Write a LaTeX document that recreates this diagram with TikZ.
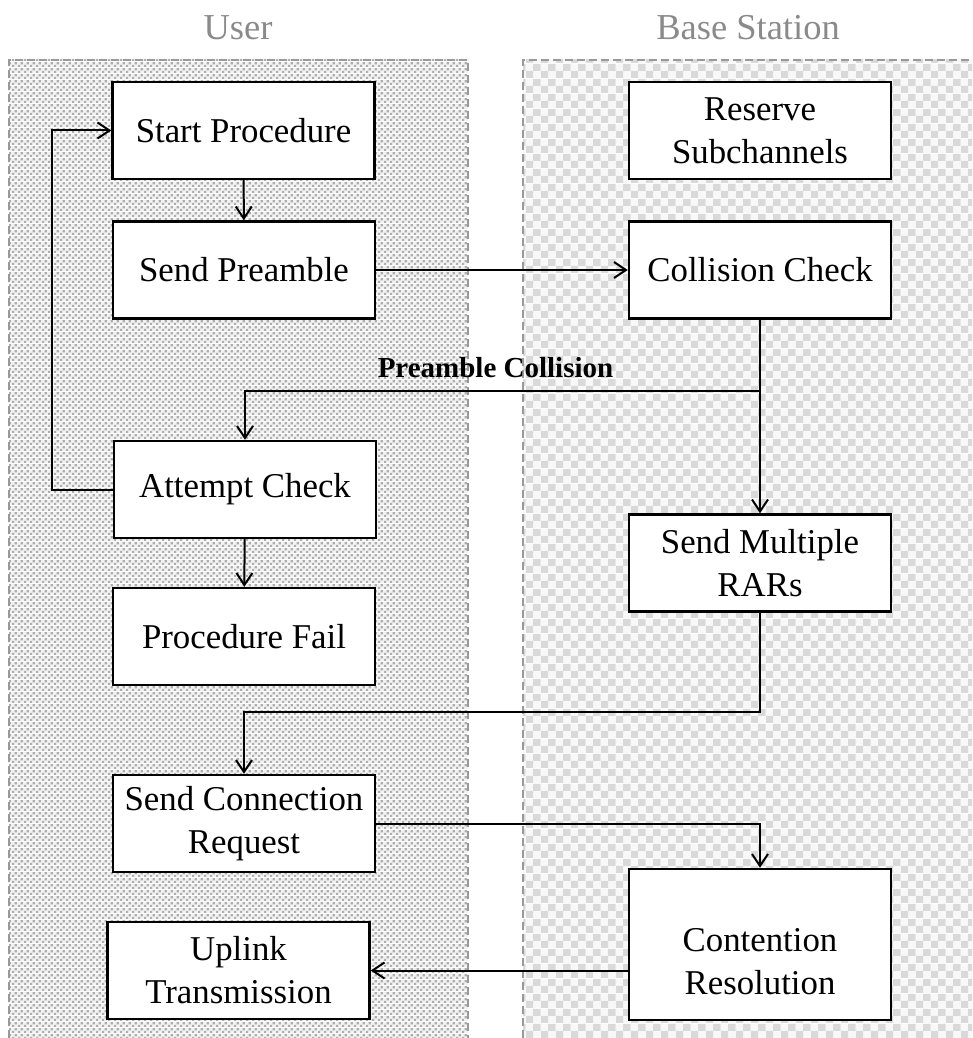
\documentclass[tikz,border=0pt]{standalone}
\usepackage{fontspec}
\setmainfont{Liberation Serif}
\usetikzlibrary{arrows.meta,patterns}

\definecolor{dotbg}{HTML}{F2F2F2}
\definecolor{dotfg}{HTML}{ADADAD}
\definecolor{chkbg}{HTML}{F8F8F8}
\definecolor{chkfg}{HTML}{D9D9D9}
\definecolor{paneledge}{HTML}{999999}
\definecolor{titlegray}{HTML}{8A8A8A}

% staggered grey dots for the user lane
\pgfdeclarepatterninherentlycolored{userdots}{\pgfpointorigin}{\pgfqpoint{6pt}{6pt}}{\pgfqpoint{6pt}{6pt}}{%
  \pgfsetfillcolor{dotbg}%
  \pgfpathrectangle{\pgfpointorigin}{\pgfqpoint{6pt}{6pt}}\pgfusepath{fill}%
  \pgfsetfillcolor{dotfg}%
  \pgfpathrectangle{\pgfpointorigin}{\pgfqpoint{2.6pt}{2.6pt}}%
  \pgfpathrectangle{\pgfqpoint{3pt}{3pt}}{\pgfqpoint{2.6pt}{2.6pt}}%
  \pgfusepath{fill}}

% light checkerboard for the base station lane
\pgfdeclarepatterninherentlycolored{bscheck}{\pgfpointorigin}{\pgfqpoint{14.6pt}{14.6pt}}{\pgfqpoint{14.6pt}{14.6pt}}{%
  \pgfsetfillcolor{chkbg}%
  \pgfpathrectangle{\pgfpointorigin}{\pgfqpoint{14.6pt}{14.6pt}}\pgfusepath{fill}%
  \pgfsetfillcolor{chkfg}%
  \pgfpathrectangle{\pgfpointorigin}{\pgfqpoint{7.3pt}{7.3pt}}%
  \pgfpathrectangle{\pgfqpoint{7.3pt}{7.3pt}}{\pgfqpoint{7.3pt}{7.3pt}}%
  \pgfusepath{fill}}

\tikzset{
  lane/.style={draw=paneledge, line width=1.4pt, dash pattern=on 8pt off 4pt},
  lanetitle/.style={text=titlegray, font=\fontsize{36.5}{42}\selectfont, anchor=base, inner sep=0pt},
  stepfont/.style={font=\fontsize{34.8}{43}\selectfont},
  stepbox/.style={draw, line width=2.4pt, fill=white, minimum width=262pt, minimum height=97pt,
    inner sep=0pt, align=center, stepfont},
  flow/.style={line width=2pt, -{Straight Barb[length=12pt,width=16pt,line width=2pt]}},
  edgelabel/.style={font=\bfseries\fontsize{29}{34}\selectfont, anchor=base, inner sep=0pt}
}

\begin{document}
\begin{tikzpicture}[x=1pt,y=-1pt]
\useasboundingbox (0,0) rectangle (972,1038);
\clip (0,0) rectangle (972,1038);

% swim lanes
\fill[pattern=userdots] (9,60) rectangle (468,1050);
\draw[lane] (9,1050) -- (9,60) -- (468,60) -- (468,1050);
\fill[pattern=bscheck] (523,60) rectangle (990,1050);
\draw[lane] (523,1050) -- (523,60) -- (990,60);

\node[lanetitle] (tuser) at (238,40) {User};
\node[lanetitle] (tbs) at (748,40) {Base Station};

% process steps
\node[stepbox] (start) at (243.5,130.5) {Start Procedure};
\node[stepbox] (pre)   at (244,270)     {Send Preamble};
\node[stepbox] (res)   at (760,130.5)   {Reserve\\Subchannels};
\node[stepbox] (coll)  at (760,270)     {Collision Check};
\node[stepbox] (att)   at (245,489.5)   {Attempt Check};
\node[stepbox] (fail)  at (244,636.5)   {Procedure Fail};
\node[stepbox] (rars)  at (760,563)     {Send Multiple\\RARs};
\node[stepbox] (conn)  at (244,823.5)   {Send Connection\\Request};
\node[stepbox] (up)    at (238.5,970.5) {Uplink\\Transmission};
\node[stepbox, minimum height=151pt] (cont) at (760,944.5) {};
\node[stepfont, align=center, inner sep=0pt] (conttext) at (760,962) {Contention\\Resolution};

% routing points
\coordinate (split) at (760,391);
\coordinate (loopx) at (52,489.5);
\coordinate (ret)   at (760,712);

% connectors
\draw[flow] (start) -- (pre);
\draw[flow] (pre) -- (coll);
\draw[flow] (coll.south) -- (rars.north);
\draw[flow] (split) -| (att.north);
\node[edgelabel] (pclabel) at (495.5,377) {Preamble Collision};
\draw[flow] (att.west) -- (loopx) |- (start.west);
\draw[flow] (att) -- (fail);
\draw[flow] (rars.south) -- (ret) -| (conn.north);
\draw[flow] (conn.east) -| (cont.north);
\draw[flow] (cont.west |- up.east) -- (up.east);
\end{tikzpicture}
\end{document}
